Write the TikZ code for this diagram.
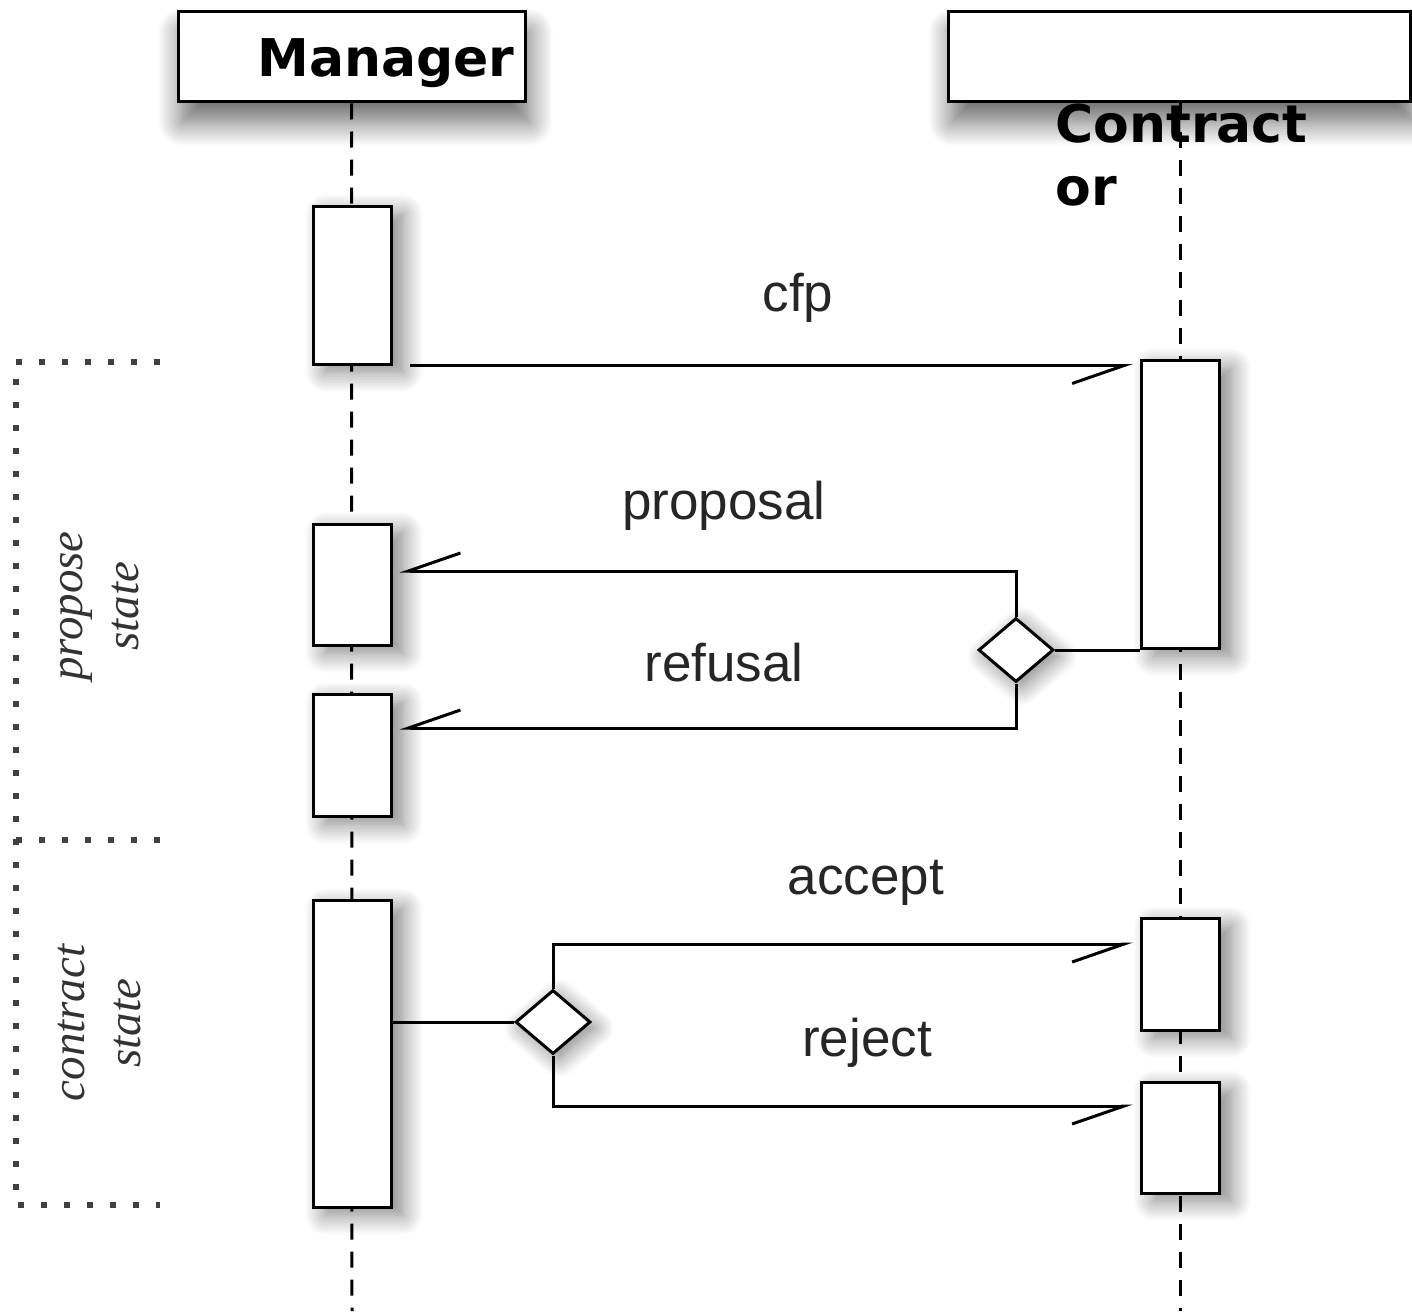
\documentclass[tikz,border=0pt]{standalone}
\usepackage{fontspec}
\setmainfont{Liberation Serif}
\newfontfamily\headfont{DejaVu Sans}
\newfontfamily\msgfont{Liberation Sans}
\usetikzlibrary{shapes.geometric,arrows.meta,shadows.blur}
\tikzset{
    head/.style={draw, line width=1.5pt, fill=white, inner sep=0pt, minimum height=45pt,
        blur shadow={shadow xshift=2pt, shadow yshift=-10pt, shadow blur radius=12pt, shadow blur steps=16, shadow opacity=60}},
    act/.style={draw, line width=1.5pt, fill=white, inner sep=0pt, minimum width=39pt,
        blur shadow={shadow xshift=6pt, shadow yshift=-4pt, shadow blur radius=10pt, shadow blur steps=14, shadow opacity=50}},
    choice/.style={draw, diamond, line width=1.5pt, fill=white, inner sep=0pt, minimum width=37.5pt, minimum height=32pt,
        blur shadow={shadow xshift=3pt, shadow yshift=-3pt, shadow blur radius=9pt, shadow blur steps=12, shadow opacity=50}},
    life/.style={line width=1.5pt, dash pattern=on 8pt off 6pt},
    msg/.style={line width=1.5pt, -{Straight Barb[harpoon,swap,length=26pt,width=18pt,line width=1.5pt]}},
    link/.style={line width=1.5pt},
    zone/.style={line width=3pt, dash pattern=on 3pt off 8.5pt, black!75},
    hdtext/.style={font=\headfont\bfseries\fontsize{26}{31.5}\selectfont, inner sep=0pt},
    msgtext/.style={font=\msgfont\fontsize{26.5}{30}\selectfont, text=black!85, inner sep=0pt, anchor=base},
    zonetext/.style={font=\itshape\fontsize{23.5}{28}\selectfont, align=center, rotate=90, text=black!80, inner sep=0pt}
}
\begin{document}
\begin{tikzpicture}[x=0.5pt, y=-0.5pt]
    \useasboundingbox (0,0) rectangle (1412,1311);
    \node[head, minimum width=173.5pt] (mgr) at (351.5,57) {};
    \node[head, minimum width=231pt] (ctr) at (1179,57) {};
    \coordinate (mgrend) at (352,1311);
    \coordinate (ctrend) at (1180,1311);
    \draw[life] (mgr.south) -- (mgrend);
    \draw[life] (ctr.south -| ctrend) -- (ctrend);

    \draw[zone] (160,362) -- (16,362) -- (16,1205) -- (160,1205);
    \draw[zone] (16,840) -- (160,840);
    \node[zonetext] (propose) at (100,606) {propose\\state};
    \node[zonetext] (contract) at (100,1023) {contract\\state};

    \node[act, minimum height=79pt] (m1) at (352,285) {};
    \node[act, minimum height=60.5pt] (m2) at (352,584.5) {};
    \node[act, minimum height=61pt] (m3) at (352,755) {};
    \node[act, minimum height=153.5pt] (m4) at (352,1053.5) {};
    \node[act, minimum height=144pt] (c1) at (1180.5,504) {};
    \node[act, minimum height=56pt] (c2) at (1180.5,974) {};
    \node[act, minimum height=55.5pt] (c3) at (1180.5,1137.5) {};
    \node[choice] (d1) at (1016,650) {};
    \node[choice] (d2) at (553,1022) {};

    \draw[msg] ([xshift=8.5pt]m1.south east) -- ([xshift=-3.5pt]m1.south east -| c1.west);
    \draw[link] (d1.east) -- (d1.east -| c1.west);
    \draw[msg] (d1.north) |- ([xshift=3.5pt, yshift=6.75pt]m2.east);
    \draw[msg] (d1.south) |- ([xshift=3.5pt, yshift=13.5pt]m3.east);
    \draw[link] (d2.west) -- (d2.west -| m4.east);
    \draw[msg] (d2.north) |- ([xshift=-3.5pt, yshift=15pt]c2.west);
    \draw[msg] (d2.south) |- ([xshift=-3.5pt, yshift=15.75pt]c3.west);

    \node[msgtext] (cfp) at (798,311) {cfp};
    \node[msgtext] (proposal) at (724,519) {proposal};
    \node[msgtext] (refusal) at (724,681) {refusal};
    \node[msgtext] (accept) at (866,894) {accept};
    \node[msgtext] (reject) at (867,1056) {reject};

    \node[hdtext, anchor=base west] (mgrtext) at (257,77) {Manager};
    \node[hdtext, anchor=base west, align=left] (ctrtext) at (1055,205) {Contract\\or};
\end{tikzpicture}
\end{document}
